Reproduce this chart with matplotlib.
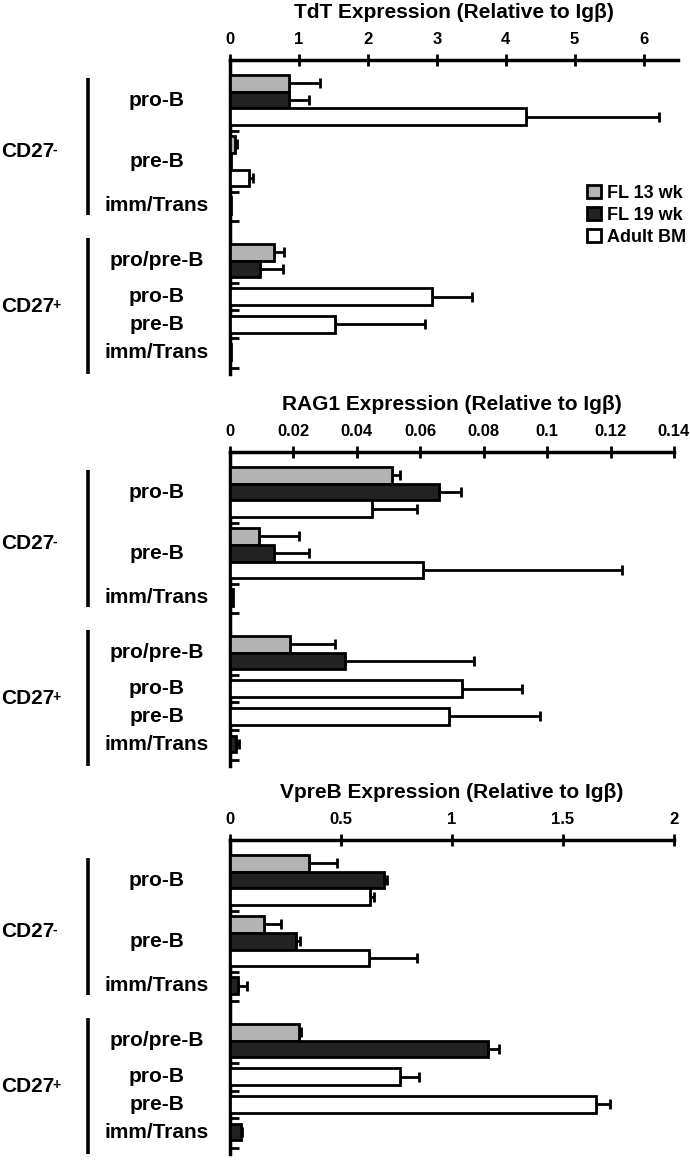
import numpy as np
import matplotlib
matplotlib.use('Agg')
import matplotlib.pyplot as plt
from matplotlib.transforms import blended_transform_factory
from matplotlib.patches import Patch

plt.rcParams['font.family'] = ['Liberation Sans', 'DejaVu Sans']
plt.rcParams['font.weight'] = 'bold'

nan = np.nan

# ---------------- data ----------------
groups = ['CD27', 'CD27']
group_sup = ['-', '+']
categories = ['pro-B', 'pre-B', 'imm/Trans', 'pro/pre-B', 'pro-B', 'pre-B', 'imm/Trans']
category_group = [0, 0, 0, 1, 1, 1, 1]
series = ['FL 13 wk', 'FL 19 wk', 'Adult BM']
series_colors = ['#b3b3b3', '#222222', '#ffffff']

tdt_fl13 = [0.86, 0.07, nan, 0.64, nan, nan, nan]
tdt_fl13_err = [0.45, 0.03, nan, 0.14, nan, nan, nan]
tdt_fl19 = [0.86, 0.01, 0.02, 0.44, nan, nan, 0.02]
tdt_fl19_err = [0.28, 0.0, 0.0, 0.33, nan, nan, 0.0]
tdt_adult = [4.29, 0.27, nan, nan, 2.93, 1.52, nan]
tdt_adult_err = [1.93, 0.07, nan, nan, 0.58, 1.31, nan]
tdt_ticks = [0, 1, 2, 3, 4, 5, 6]

rag1_fl13 = [0.051, 0.0093, nan, 0.019, nan, nan, nan]
rag1_fl13_err = [0.0025, 0.0123, nan, 0.014, nan, nan, nan]
rag1_fl19 = [0.066, 0.014, 0.0008, 0.0363, nan, nan, 0.002]
rag1_fl19_err = [0.0068, 0.011, 0.0, 0.0405, nan, nan, 0.0008]
rag1_adult = [0.0447, 0.061, nan, nan, 0.0731, 0.0692, nan]
rag1_adult_err = [0.0143, 0.0625, nan, nan, 0.019, 0.0285, nan]
rag1_ticks = [0, 0.02, 0.04, 0.06, 0.08, 0.1, 0.12, 0.14]

vpreb_fl13 = [0.357, 0.155, nan, 0.312, nan, nan, nan]
vpreb_fl13_err = [0.123, 0.076, nan, 0.008, nan, nan, nan]
vpreb_fl19 = [0.693, 0.296, 0.038, 1.163, nan, nan, 0.05]
vpreb_fl19_err = [0.015, 0.018, 0.04, 0.05, nan, nan, 0.006]
vpreb_adult = [0.63, 0.624, nan, nan, 0.765, 1.65, nan]
vpreb_adult_err = [0.017, 0.218, nan, nan, 0.085, 0.06, nan]
vpreb_ticks = [0, 0.5, 1, 1.5, 2]

panels = [
    dict(title='TdT Expression (Relative to Igβ)', top=60, right=678, xmax=6.5,
         vals=[tdt_fl13, tdt_fl19, tdt_adult], errs=[tdt_fl13_err, tdt_fl19_err, tdt_adult_err],
         ticks=tdt_ticks, legend=True),
    dict(title='RAG1 Expression (Relative to Igβ)', top=452, right=674, xmax=0.14,
         vals=[rag1_fl13, rag1_fl19, rag1_adult], errs=[rag1_fl13_err, rag1_fl19_err, rag1_adult_err],
         ticks=rag1_ticks, legend=False),
    dict(title='VpreB Expression (Relative to Igβ)', top=840, right=674, xmax=2.0,
         vals=[vpreb_fl13, vpreb_fl19, vpreb_adult], errs=[vpreb_fl13_err, vpreb_fl19_err, vpreb_adult_err],
         ticks=vpreb_ticks, legend=False),
]

# ---------------- layout (pixel units below the axis line) ----------------
W, H = 690, 1162
LEFT = 230
BAR_H = 16.7
START = 15.0
CAT_GAP = 11.0
GROUP_GAP = 30.0
END_TICK = 7.5
YMAX = 314.0
GROUP_LABEL_SHIFT = [5, 1]


def layout(vals):
    y = START
    bars, ticks, cat_centers = [], [], []
    group_start, group_end = {}, {}
    for ci in range(len(categories)):
        g = category_group[ci]
        if ci > 0:
            if g != category_group[ci - 1]:
                ticks.append(y + END_TICK)
                y += GROUP_GAP
            else:
                ticks.append(y + CAT_GAP / 2)
                y += CAT_GAP
        c0 = y
        group_start.setdefault(g, c0)
        for s in range(len(series)):
            if not np.isnan(vals[s][ci]):
                bars.append((ci, s, y + BAR_H / 2))
                y += BAR_H
        cat_centers.append((c0 + y) / 2)
        group_end[g] = y
    ticks.append(y + END_TICK)
    return bars, ticks, cat_centers, group_start, group_end


def fmt(v):
    return ('%g' % v)


fig = plt.figure(figsize=(W / 100, H / 100), dpi=100)
group_texts = []

for p in panels:
    top = p['top']
    ax = fig.add_axes([LEFT / W, 1 - (top + YMAX) / H, (p['right'] - LEFT) / W, YMAX / H])
    bars, ticks, cat_centers, gs, ge = layout(p['vals'])
    for ci, s, yc in bars:
        v = p['vals'][s][ci]
        e = p['errs'][s][ci]
        if e and e > 0:
            ax.errorbar([v], [yc], xerr=[[0], [e]], fmt='none', ecolor='black',
                        elinewidth=2.0, capsize=3.4, capthick=2.0, zorder=2)
        ax.barh([yc], [v], height=BAR_H, color=series_colors[s], edgecolor='black',
                linewidth=2.0, zorder=3)
    ax.set_xlim(0, p['xmax'])
    ax.set_ylim(YMAX, 0)
    ax.xaxis.tick_top()
    ax.set_xticks(p['ticks'])
    ax.set_xticklabels([fmt(t) for t in p['ticks']], fontsize=12, fontweight='bold')
    ax.tick_params(axis='x', direction='inout', length=9, width=2, pad=5, top=True, bottom=False)
    ax.set_yticks(ticks)
    ax.set_yticklabels([])
    ax.tick_params(axis='y', direction='in', length=6.5, width=2, left=True)
    for side in ['right', 'bottom']:
        ax.spines[side].set_visible(False)
    ax.spines['top'].set_linewidth(2.5)
    ax.spines['left'].set_linewidth(2.5)
    ax.set_facecolor('none')

    fig.text((LEFT + p['right']) / 2 / W, 1 - (top - 48) / H, p['title'],
             ha='center', va='center', fontsize=15, fontweight='bold')

    tr = blended_transform_factory(fig.transFigure, ax.transData)
    for ci, yc in enumerate(cat_centers):
        ax.text(157 / W, yc, categories[ci], transform=tr, ha='center', va='center',
                fontsize=15, fontweight='bold')
    spans = [(START + 3, ge[0] + 1.5), (gs[1] - 6, YMAX)]
    for g, (y0, y1) in enumerate(spans):
        ax.plot([88 / W, 88 / W], [y0, y1], transform=tr, color='black', lw=2.6,
                clip_on=False, solid_capstyle='butt')
        t = ax.text(1 / W, (y0 + y1) / 2 + GROUP_LABEL_SHIFT[g], groups[g], transform=tr,
                    ha='left', va='center', fontsize=15, fontweight='bold')
        group_texts.append((t, group_sup[g]))

    if p['legend']:
        handles = [Patch(facecolor=series_colors[i], edgecolor='black', linewidth=2)
                   for i in range(len(series))]
        fig.legend(handles, series, loc='upper left',
                   bbox_to_anchor=(587 / W, 1 - 185 / H), frameon=False,
                   handlelength=0.75, handleheight=0.75, handletextpad=0.35,
                   labelspacing=0.28, borderpad=0, borderaxespad=0,
                   prop=dict(size=13, weight='bold'))

# superscripts for CD27 labels
renderer = fig.canvas.get_renderer()
for t, sup in group_texts:
    bb = t.get_window_extent(renderer)
    fig.text((bb.x1 - 1.5) / W, (bb.y1 - 1) / H, sup, ha='left', va='top',
             fontsize=10, fontweight='bold')

fig.savefig('out.png', dpi=100, facecolor='white')
